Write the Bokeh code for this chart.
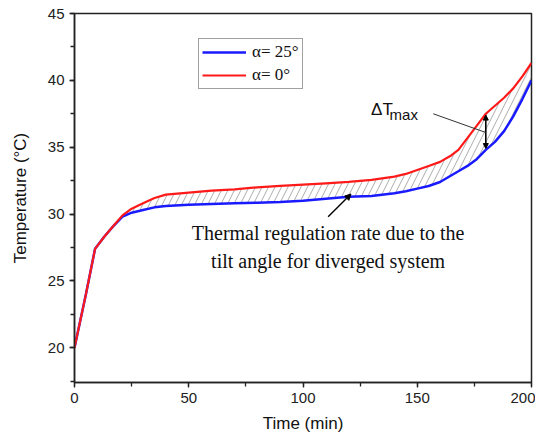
from bokeh.plotting import figure
from bokeh.models import Range1d, Label, Arrow, NormalHead, Legend, LegendItem, SingleIntervalTicker
from bokeh.embed import file_html
from bokeh.resources import INLINE

# ---- data ----
time = [0, 5, 9, 13, 17, 21, 25, 30, 35, 40, 50, 60, 70, 80, 90, 100, 110, 120, 130,
        140, 145, 150, 155, 160, 165, 168, 172, 176, 180, 184, 188, 192, 196, 200]
temp_a0 = [20.0, 24.0, 27.4, 28.3, 29.1, 29.9, 30.4, 30.8, 31.2, 31.45, 31.6, 31.75, 31.85,
           32.0, 32.1, 32.2, 32.3, 32.4, 32.55, 32.8, 33.0, 33.3, 33.6, 33.9, 34.4, 34.8,
           35.7, 36.6, 37.5, 38.1, 38.7, 39.4, 40.3, 41.3]
temp_a25 = [20.0, 24.0, 27.4, 28.3, 29.1, 29.8, 30.1, 30.3, 30.5, 30.6, 30.7, 30.75, 30.8,
            30.85, 30.9, 31.0, 31.15, 31.3, 31.35, 31.55, 31.7, 31.9, 32.1, 32.4, 32.9, 33.2,
            33.6, 34.1, 34.8, 35.4, 36.2, 37.3, 38.6, 40.0]
legend_labels = ["\u03b1= 25\u00b0", "\u03b1= 0\u00b0"]
hatch_start_index = 5

p = figure(width=535, height=435, output_backend="svg", toolbar_location=None,
           x_range=Range1d(0, 200), y_range=Range1d(17.4, 45),
           min_border_left=74, min_border_right=4, min_border_top=13, min_border_bottom=53)
p.background_fill_color = "white"
p.border_fill_color = "white"
p.outline_line_color = "#222222"
p.outline_line_width = 1.5
p.grid.visible = False

# hatched area between curves
p.varea(x=time[hatch_start_index:], y1=temp_a25[hatch_start_index:], y2=temp_a0[hatch_start_index:],
        fill_alpha=0, hatch_pattern="/", hatch_color="#888888", hatch_scale=13, hatch_weight=0.7)

r_blue = p.line(time, temp_a25, line_color="#1a1aff", line_width=2.5)
r_red = p.line(time, temp_a0, line_color="#ff1a1a", line_width=2.2)

# axes
for ax in (p.xaxis[0], p.yaxis[0]):
    ax.axis_line_color = "#222222"
    ax.axis_line_width = 1.5
    ax.major_tick_line_color = "#222222"
    ax.minor_tick_line_color = "#222222"
    ax.major_tick_line_width = 1.3
    ax.minor_tick_line_width = 1.3
    ax.major_tick_out = 5
    ax.major_tick_in = 0
    ax.minor_tick_out = 4
    ax.minor_tick_in = 0
    ax.major_label_text_font = "Liberation Sans"
    ax.major_label_text_font_size = "15px"
    ax.major_label_text_color = "#222222"
    ax.axis_label_text_font = "Liberation Sans"
    ax.axis_label_text_font_size = "17px"
    ax.axis_label_text_font_style = "normal"
    ax.axis_label_text_color = "#111111"

p.xaxis.ticker = SingleIntervalTicker(interval=50, num_minor_ticks=2)
p.yaxis.ticker = SingleIntervalTicker(interval=5, num_minor_ticks=2)
p.xaxis.axis_label = "Time (min)"
p.yaxis.axis_label = "Temperature (\u00b0C)"
p.xaxis.major_label_standoff = 5
p.xaxis.axis_label_standoff = 8
p.yaxis.axis_label_standoff = 15

# legend
legend = Legend(items=[LegendItem(label=legend_labels[0], renderers=[r_blue]),
                       LegendItem(label=legend_labels[1], renderers=[r_red])],
                orientation="vertical")
legend.label_text_font = "Liberation Serif"
legend.label_text_font_size = "17px"
legend.label_text_color = "#111111"
legend.border_line_color = "#444444"
legend.border_line_width = 1
legend.glyph_width = 44
legend.glyph_height = 20
legend.label_height = 20
legend.spacing = 3
legend.padding = 3
legend.margin = 0
legend.label_standoff = 6
legend.location = (124, 293)
p.add_layout(legend)

# delta T max annotation
p.add_layout(Arrow(x_start=180, y_start=37.4, x_end=180, y_end=34.9,
                   start=NormalHead(size=5, fill_color="black", line_color="black"),
                   end=NormalHead(size=5, fill_color="black", line_color="black"),
                   line_color="black", line_width=1.6))
p.add_layout(Arrow(x_start=157, y_start=37.5, x_end=180, y_end=36.1, end=None,
                   line_color="#333333", line_width=1))
p.add_layout(Label(x=129.8, y=37.1, text="\u0394T", text_font="Liberation Sans",
                   text_font_size="17px", text_color="#111111"))
p.add_layout(Label(x=137.9, y=36.8, text="max", text_font="Liberation Sans",
                   text_font_size="15px", text_color="#111111"))

# regulation annotation
p.add_layout(Arrow(x_start=111, y_start=29.8, x_end=121, y_end=31.5,
                   end=NormalHead(size=6, fill_color="black", line_color="black"),
                   line_color="black", line_width=1.4))
p.add_layout(Label(x=111, y=28.6, text="Thermal regulation rate due to the",
                   text_font="Liberation Serif", text_font_size="20px", text_color="#111111",
                   text_align="center", text_baseline="middle"))
p.add_layout(Label(x=111, y=26.5, text="tilt angle for diverged system",
                   text_font="Liberation Serif", text_font_size="20px", text_color="#111111",
                   text_align="center", text_baseline="middle"))

open("out.html", "w").write(file_html(p, INLINE))
